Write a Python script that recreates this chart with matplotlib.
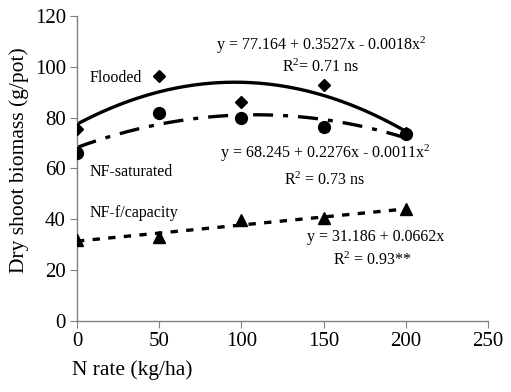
import numpy as np
import matplotlib
matplotlib.use("Agg")
import matplotlib.pyplot as plt

plt.rcParams['font.family'] = ['Liberation Serif', 'DejaVu Serif']
plt.rcParams['mathtext.fontset'] = 'custom'
plt.rcParams['mathtext.rm'] = 'Liberation Serif'
plt.rcParams['mathtext.it'] = 'Liberation Serif:italic'

# data
n_rate = [0, 50, 100, 150, 200]
flooded = [75.6, 96.3, 86.2, 92.8, 73.8]
nf_saturated = [66.2, 81.8, 79.8, 76.4, 73.6]
nf_capacity = [31.8, 32.8, 39.6, 40.3, 43.9]

flooded_eq = ["y = 77.164 + 0.3527x - 0.0018x$^2$", "R$^2$= 0.71 ns"]
saturated_eq = ["y = 68.245 + 0.2276x - 0.0011x$^2$", "R$^2$ = 0.73 ns"]
capacity_eq = ["y = 31.186 + 0.0662x", "R$^2$ = 0.93**"]

fig = plt.figure(figsize=(5.11, 3.92), dpi=100)
ax = fig.add_axes([0.1507, 0.1819, 0.8043, 0.7773])

xs = np.linspace(0, 200, 200)
fit_f = np.polyval(np.polyfit(n_rate, flooded, 2), xs)
fit_s = np.polyval(np.polyfit(n_rate, nf_saturated, 2), xs)
fit_c = np.polyval(np.polyfit(n_rate, nf_capacity, 1), xs)

ax.plot(xs, fit_f, color='black', lw=2.4, solid_capstyle='butt', zorder=2)
ax.plot(xs, fit_s, color='black', lw=2.4, dashes=(6, 3, 1.5, 3), zorder=2)
ax.plot(xs, fit_c, color='black', lw=2.4, dashes=(2.2, 2.5), zorder=2)

ax.plot(n_rate, flooded, 'D', color='black', ms=6.5, zorder=3)
ax.plot(n_rate, nf_saturated, 'o', color='black', ms=8.5, zorder=3)
ax.plot(n_rate, nf_capacity, '^', color='black', ms=8.5, zorder=3)

ax.set_xlim(0, 250)
ax.set_ylim(0, 120)
ax.set_xticks([0, 50, 100, 150, 200, 250])
ax.set_yticks([0, 20, 40, 60, 80, 100, 120])
for s in ['top', 'right']:
    ax.spines[s].set_visible(False)
for s in ['left', 'bottom']:
    ax.spines[s].set_color('#808080')
    ax.spines[s].set_linewidth(1.0)
ax.tick_params(direction='out', length=5, color='#808080', labelsize=15,
               labelcolor='black', pad=3)

fs = 11.5
ax.text(7.9, 95.5, "Flooded", fontsize=fs, va='center', ha='left')
ax.text(7.9, 58.5, "NF-saturated", fontsize=fs, va='center', ha='left')
ax.text(7.9, 42.4, "NF-f/capacity", fontsize=fs, va='center', ha='left')

ax.text(148.4, 108.5, flooded_eq[0], fontsize=fs, ha='center', va='center')
ax.text(148.4, 99.9, flooded_eq[1], fontsize=fs, ha='center', va='center')
ax.text(150.9, 66.0, saturated_eq[0], fontsize=fs, ha='center', va='center')
ax.text(150.9, 55.4, saturated_eq[1], fontsize=fs, ha='center', va='center')
ax.text(181.9, 33.0, capacity_eq[0], fontsize=fs, ha='center', va='center')
ax.text(180.0, 23.9, capacity_eq[1], fontsize=fs, ha='center', va='center')

fig.text(72 / 511, 1 - 370 / 392, "N rate (kg/ha)", fontsize=15.5,
         ha='left', va='center')
fig.text(19 / 511, 1 - 160 / 392, "Dry shoot biomass (g/pot)", fontsize=15.5,
         ha='center', va='center', rotation=90)

fig.savefig('out.png', dpi=100)
